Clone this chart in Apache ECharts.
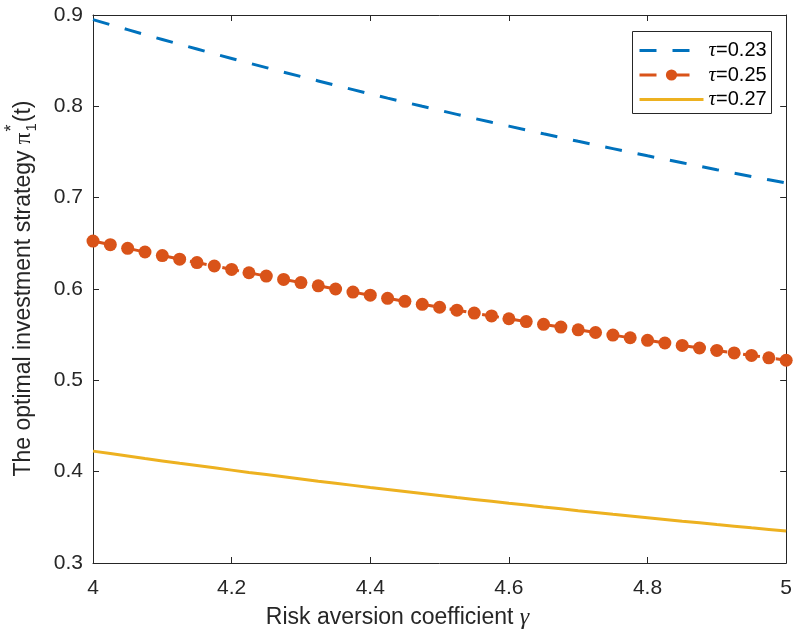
<!DOCTYPE html>
<html>
<head>
<meta charset="utf-8">
<script src="https://cdn.jsdelivr.net/npm/echarts@6/dist/echarts.min.js"></script>
<style>
html,body{margin:0;padding:0;background:#fff;}
#chart{width:795px;height:637px;}
</style>
</head>
<body>
<div id="chart"></div>
<script>
// Risk aversion coefficient gamma (x values)
var gamma = [4, 4.025, 4.05, 4.075, 4.1, 4.125, 4.15, 4.175, 4.2, 4.225, 4.25, 4.275, 4.3, 4.325, 4.35, 4.375, 4.4, 4.425, 4.45, 4.475, 4.5, 4.525, 4.55, 4.575, 4.6, 4.625, 4.65, 4.675, 4.7, 4.725, 4.75, 4.775, 4.8, 4.825, 4.85, 4.875, 4.9, 4.925, 4.95, 4.975, 5];
// tau = 0.23
var tau023 = [0.8950, 0.8894, 0.8840, 0.8785, 0.8732, 0.8679, 0.8627, 0.8575, 0.8524, 0.8473, 0.8424, 0.8374, 0.8326, 0.8278, 0.8230, 0.8183, 0.8136, 0.8090, 0.8045, 0.8000, 0.7956, 0.7912, 0.7868, 0.7825, 0.7783, 0.7741, 0.7699, 0.7658, 0.7617, 0.7577, 0.7537, 0.7497, 0.7458, 0.7420, 0.7382, 0.7344, 0.7306, 0.7269, 0.7232, 0.7196, 0.7160];
// tau = 0.25
var tau025 = [0.6525, 0.6485, 0.6445, 0.6405, 0.6366, 0.6327, 0.6289, 0.6252, 0.6214, 0.6178, 0.6141, 0.6105, 0.6070, 0.6035, 0.6000, 0.5966, 0.5932, 0.5898, 0.5865, 0.5832, 0.5800, 0.5768, 0.5736, 0.5705, 0.5674, 0.5643, 0.5613, 0.5583, 0.5553, 0.5524, 0.5495, 0.5466, 0.5438, 0.5409, 0.5382, 0.5354, 0.5327, 0.5300, 0.5273, 0.5246, 0.5220];
// tau = 0.27
var tau027 = [0.4225, 0.4198, 0.4171, 0.4144, 0.4118, 0.4092, 0.4067, 0.4042, 0.4017, 0.3992, 0.3968, 0.3944, 0.3920, 0.3896, 0.3873, 0.3850, 0.3827, 0.3805, 0.3783, 0.3761, 0.3739, 0.3717, 0.3696, 0.3675, 0.3654, 0.3634, 0.3613, 0.3593, 0.3573, 0.3554, 0.3534, 0.3515, 0.3496, 0.3477, 0.3458, 0.3440, 0.3421, 0.3403, 0.3385, 0.3368, 0.3350];
var seriesNames = ['τ=0.23', 'τ=0.25', 'τ=0.27'];
var xTicks = [4, 4.2, 4.4, 4.6, 4.8, 5];
var yTicks = [0.3, 0.4, 0.5, 0.6, 0.7, 0.8, 0.9];

function pairs(ys){ return gamma.map(function(g,i){ return [g, ys[i]]; }); }

var AX = '#262626';
var SANS = 'Liberation Sans, Arial, Helvetica, sans-serif';
var SERIF = 'Liberation Serif, Times New Roman, serif';
var C1 = '#0072BD', C2 = '#D95319', C3 = '#EDB120';
var DASH = [17,16];

var chart = echarts.init(document.getElementById('chart'), null, {renderer:'canvas'});

// measure widths for y-axis label layout
var cvs = document.createElement('canvas').getContext('2d');
function tw(t, font){ cvs.font = font; return cvs.measureText(t).width; }
var mainTxt = 'The optimal investment strategy ';
var wMain = tw(mainTxt, '23px ' + SANS);
var wPi = tw('π', '23px ' + SERIF);
var wParen = tw('(t)', '23px ' + SANS);
var wSub = tw('1', '15px ' + SANS);
var total = wMain + wPi + wSub + 1 + wParen;
var x0 = -total/2;

function axisCommon(show){
  return {
    axisLine:{show:true, onZero:false, lineStyle:{color:AX, width:1}},
    axisTick:{show:true, inside:true, length:6, lineStyle:{color:AX, width:1}},
    splitLine:{show:false},
    axisLabel:{show:show, color:AX, fontSize:21, fontFamily:SANS}
  };
}

var xMain = Object.assign(axisCommon(true), {
  type:'value', min:4, max:5, interval:0.2, position:'bottom'
});
xMain.axisLabel.margin = 15;
var xTop = Object.assign(axisCommon(false), {
  type:'value', min:4, max:5, interval:0.2, position:'top'
});
var yMain = Object.assign(axisCommon(true), {
  type:'value', min:0.3, max:0.9, interval:0.1, position:'left'
});
yMain.axisLabel.margin = 10;
yMain.axisLabel.formatter = function(v){ return v.toFixed(1); };
var yRight = Object.assign(axisCommon(false), {
  type:'value', min:0.3, max:0.9, interval:0.1, position:'right'
});

var option = {
  animation:false,
  backgroundColor:'#fff',
  grid:{left:93, right:7, top:15, bottom:74, containLabel:false},
  xAxis:[xMain, xTop],
  yAxis:[yMain, yRight],
  legend:{
    orient:'vertical', left:638, top:40,
    padding:0, itemGap:3.5,
    itemWidth:64, itemHeight:14,
    data:[
      {name:seriesNames[0], itemStyle:{opacity:0}, lineStyle:{width:3, type:DASH, color:C1}},
      {name:seriesNames[1], lineStyle:{width:3, type:DASH, color:C2}},
      {name:seriesNames[2], itemStyle:{opacity:0}, lineStyle:{width:3, color:C3}}
    ],
    formatter:function(n){ return '{t|τ}' + n.slice(1); },
    textStyle:{fontSize:20, color:'#000', fontFamily:SANS, lineHeight:20,
      rich:{t:{fontFamily:SERIF, fontStyle:'italic', fontSize:21, color:'#000'}}}
  },
  series:[
    {name:seriesNames[0], type:'line', data:pairs(tau023), showSymbol:false, symbol:'none',
     lineStyle:{color:C1, width:3, type:DASH}, itemStyle:{color:C1}},
    {name:seriesNames[1], type:'line', data:pairs(tau025), symbol:'circle', symbolSize:13, showAllSymbol:true,
     lineStyle:{color:C2, width:3, type:DASH}, itemStyle:{color:C2}},
    {name:seriesNames[2], type:'line', data:pairs(tau027), showSymbol:false, symbol:'none',
     lineStyle:{color:C3, width:3}, itemStyle:{color:C3}}
  ],
  graphic:[
    {type:'rect', left:632, top:31, z:-1, silent:true,
     shape:{width:139, height:82}, style:{fill:'#fff', stroke:AX, lineWidth:1}},
    {type:'text', left:'center', x:0, top:606,
     style:{text:'{a|Risk aversion coefficient }{g|γ}', rich:{
        a:{fontSize:23, fontFamily:SANS, fill:AX},
        g:{fontSize:24, fontFamily:SERIF, fontStyle:'italic', fill:AX}}}},
    {type:'group', x:24, y:289, rotation:Math.PI/2, children:[
      {type:'text', x:x0, y:0, style:{text:mainTxt, font:'23px ' + SANS, fill:AX, textAlign:'left', textVerticalAlign:'middle'}},
      {type:'text', x:x0 + wMain, y:0, style:{text:'π', font:'23px ' + SERIF, fill:AX, textAlign:'left', textVerticalAlign:'middle'}},
      {type:'text', x:x0 + wMain + wPi + 1, y:8, style:{text:'1', font:'15px ' + SANS, fill:AX, textAlign:'left', textVerticalAlign:'middle'}},
      {type:'text', x:x0 + wMain + wPi + 1, y:-12, style:{text:'*', font:'18px ' + SANS, fill:AX, textAlign:'left', textVerticalAlign:'middle'}},
      {type:'text', x:x0 + wMain + wPi + wSub + 2, y:0, style:{text:'(t)', font:'23px ' + SANS, fill:AX, textAlign:'left', textVerticalAlign:'middle'}}
    ]}
  ]
};
chart.setOption(option);
</script>
</body>
</html>
